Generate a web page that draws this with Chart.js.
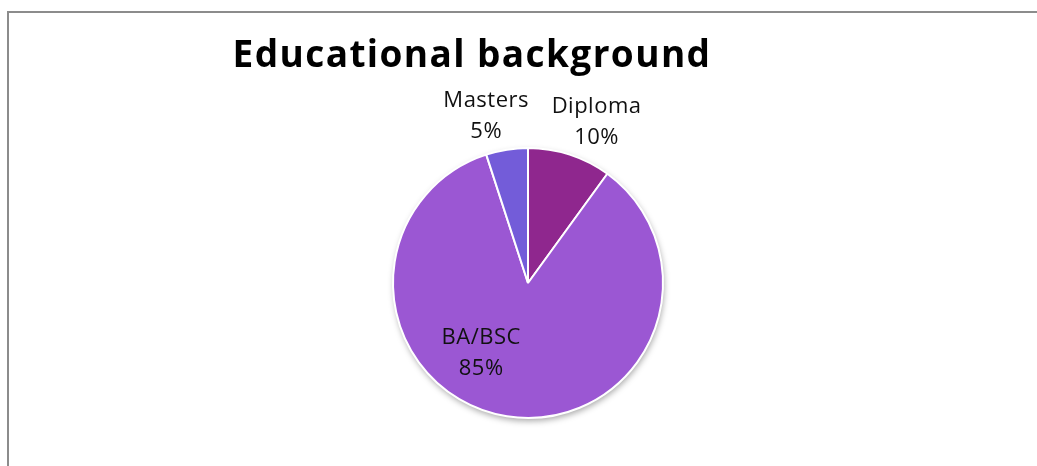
<!DOCTYPE html>
<html>
<head>
<meta charset="utf-8">
<title>Educational background</title>
<script src="https://cdn.jsdelivr.net/npm/chart.js@4"></script>
<style>
  html, body { margin: 0; padding: 0; background: #fff; overflow: hidden; }
  #frame {
    position: absolute; left: 7px; top: 11px;
    width: 1100px; height: 500px;
    border-left: 2px solid #8c8c8c; border-top: 2px solid #8c8c8c;
  }
  #box { position: relative; width: 1038px; height: 455px; }
</style>
</head>
<body>
<div id="frame">
  <div id="box"><canvas id="myChart"></canvas></div>
</div>
<script>
//chart data
const titleText = "Educational background";
const categories = ["Diploma", "BA/BSC", "Masters"];
const shares = [10, 85, 5];
const sliceColors = ["#8F278E", "#9B57D3", "#735CD9"];

//where each label sits: degrees clockwise from 12 o'clock, distance in radii
const labelSpots = [
  { angle: 23, dist: 1.30 },
  { angle: 214, dist: 0.62 },
  { angle: -14, dist: 1.28 }
];

//soft shadow under the pie
const pieShadow = {
  id: "pieShadow",
  beforeDatasetsDraw(chart) {
    let arc = chart.getDatasetMeta(0).data[0];
    if (!arc) return;
    let ctx = chart.ctx;
    ctx.save();
    ctx.shadowColor = "rgba(0,0,0,0.35)";
    ctx.shadowBlur = 6;
    ctx.shadowOffsetX = 1;
    ctx.shadowOffsetY = 3;
    ctx.fillStyle = "#fff";
    ctx.beginPath();
    ctx.arc(arc.x, arc.y, arc.outerRadius, 0, Math.PI * 2);
    ctx.fill();
    ctx.restore();
  }
};

//category name and percentage for every slice
const sliceLabels = {
  id: "sliceLabels",
  afterDatasetsDraw(chart) {
    let ctx = chart.ctx;
    let arcs = chart.getDatasetMeta(0).data;
    let total = shares.reduce((a, b) => a + b, 0);
    ctx.save();
    ctx.fillStyle = "#111";
    ctx.font = "22px 'Open Sans'";
    ctx.letterSpacing = "0.5px";
    ctx.textAlign = "center";
    ctx.textBaseline = "middle";
    arcs.forEach((arc, i) => {
      let spot = labelSpots[i];
      let a = (spot.angle * Math.PI) / 180;
      let r = arc.outerRadius * spot.dist;
      let x = arc.x + r * Math.sin(a);
      let y = arc.y - r * Math.cos(a);
      let pct = Math.round((shares[i] / total) * 100) + "%";
      ctx.fillText(categories[i], x, y - 15);
      ctx.fillText(pct, x, y + 16);
    });
    ctx.restore();
  }
};

//title sits left of the pie centre
const chartTitle = {
  id: "chartTitle",
  afterDraw(chart) {
    let ctx = chart.ctx;
    ctx.save();
    ctx.fillStyle = "#000";
    ctx.font = "bold 37px 'Open Sans'";
    ctx.letterSpacing = "1.4px";
    ctx.textAlign = "center";
    ctx.textBaseline = "alphabetic";
    ctx.fillText(titleText, 463, 54);
    ctx.restore();
  }
};

function loadChart() {
  let ctx = document.getElementById("myChart").getContext("2d");
  new Chart(ctx, {
    type: "pie",
    data: {
      labels: categories,
      datasets: [
        {
          data: shares,
          backgroundColor: sliceColors,
          borderColor: "#fff",
          borderWidth: 2
        }
      ]
    },
    options: {
      responsive: true,
      maintainAspectRatio: false,
      animation: false,
      layout: { padding: { top: 134, bottom: 49 } },
      plugins: {
        legend: { display: false },
        title: { display: false },
        tooltip: { enabled: false }
      }
    },
    plugins: [pieShadow, sliceLabels, chartTitle]
  });
}

window.onload = function() {
  loadChart();
};
</script>
</body>
</html>
